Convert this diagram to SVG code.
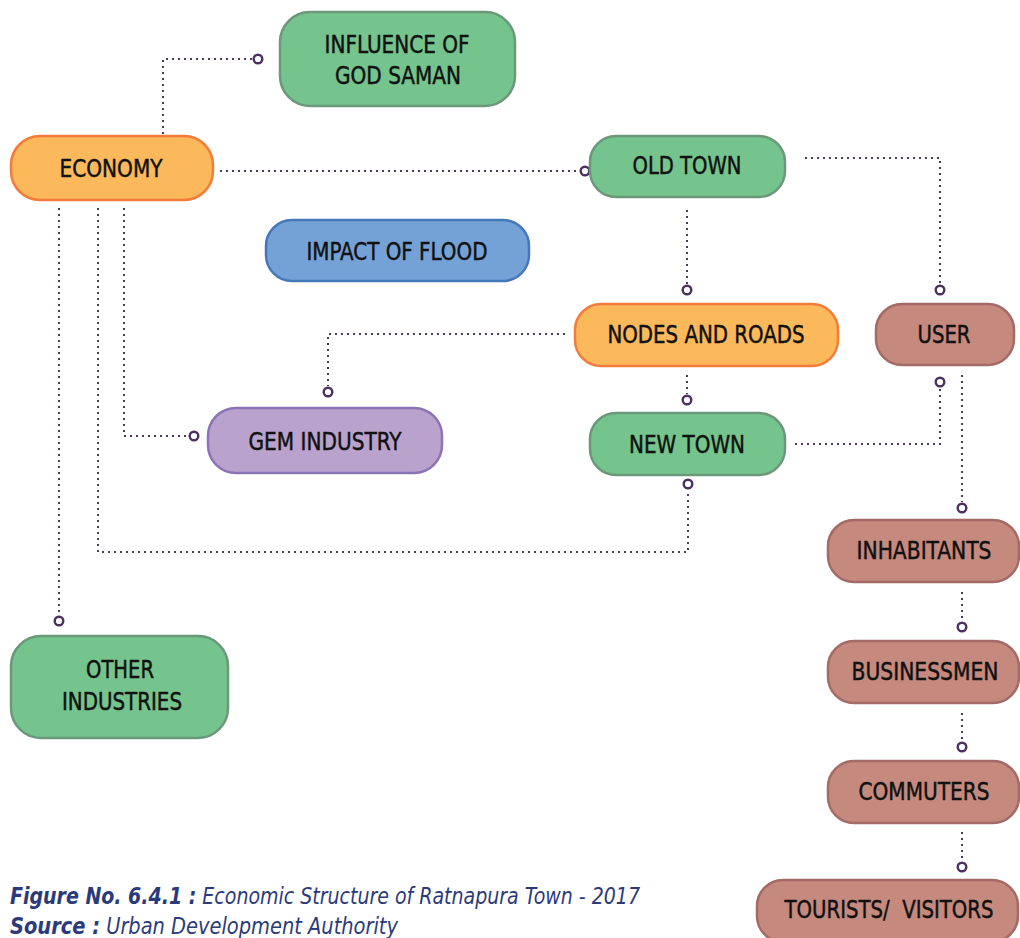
<svg xmlns="http://www.w3.org/2000/svg" width="1020" height="938" viewBox="0 0 1020 938">
<style>
.n{stroke-width:2.5}
.g{fill:#75c48d;stroke:#6b977b}
.o{fill:#fbb95b;stroke:#f47b3b}
.b{fill:#74a2d6;stroke:#4677b9}
.p{fill:#b9a2cc;stroke:#8a74b6}
.r{fill:#c5897e;stroke:#a36a66}
.t{font-family:"DejaVu Sans Condensed","Liberation Sans",sans-serif;font-size:25px;fill:#111;stroke:#111;stroke-width:0.45;text-anchor:middle}
.c{fill:none;stroke:#4b3a5e;stroke-width:2;stroke-dasharray:2 4}
.e{fill:#fff;stroke:#4b3060;stroke-width:2.4}
.cap{font-family:"DejaVu Sans Condensed","Liberation Sans",sans-serif;font-size:23px;font-style:italic;fill:#2b3a7a}
</style>
<g id="connectors">
<path class="c" d="M163,134 V59 H252"/><circle class="e" cx="258" cy="59" r="4.3"/>
<path class="c" d="M220,171 H579"/><circle class="e" cx="585" cy="171" r="4.3"/>
<path class="c" d="M805,158 H940 V284"/><circle class="e" cx="940" cy="290" r="4.3"/>
<path class="c" d="M687,210 V284"/><circle class="e" cx="687" cy="290" r="4.3"/>
<path class="c" d="M565,334 H328 V386"/><circle class="e" cx="328" cy="392" r="4.3"/>
<path class="c" d="M687,375 V394"/><circle class="e" cx="687" cy="400" r="4.3"/>
<path class="c" d="M124,208 V436 H188"/><circle class="e" cx="194" cy="436" r="4.3"/>
<path class="c" d="M98,208 V552 H688 V490"/><circle class="e" cx="688" cy="484" r="4.3"/>
<path class="c" d="M59,208 V615"/><circle class="e" cx="59" cy="621" r="4.3"/>
<path class="c" d="M795,444 H940 V388"/><circle class="e" cx="940" cy="382" r="4.3"/>
<path class="c" d="M962,375 V502"/><circle class="e" cx="962" cy="508" r="4.3"/>
<path class="c" d="M962,592 V621"/><circle class="e" cx="962" cy="627" r="4.3"/>
<path class="c" d="M962,713 V741"/><circle class="e" cx="962" cy="747" r="4.3"/>
<path class="c" d="M962,832 V861"/><circle class="e" cx="962" cy="867" r="4.3"/>
</g>
<g id="influence"><rect class="n g" x="280" y="12" width="235" height="94" rx="30"/><text class="t" x="397" y="53" textLength="145" lengthAdjust="spacingAndGlyphs">INFLUENCE OF</text><text class="t" x="398" y="84" textLength="126" lengthAdjust="spacingAndGlyphs">GOD SAMAN</text></g>
<g id="economy"><rect class="n o" x="11" y="136" width="202" height="64" rx="29"/><text class="t" x="111" y="177" textLength="103" lengthAdjust="spacingAndGlyphs">ECONOMY</text></g>
<g id="oldtown"><rect class="n g" x="590" y="136" width="195" height="61" rx="26"/><text class="t" x="687" y="174" textLength="109" lengthAdjust="spacingAndGlyphs">OLD TOWN</text></g>
<g id="flood"><rect class="n b" x="266" y="220" width="263" height="61" rx="26"/><text class="t" x="397" y="260" textLength="181" lengthAdjust="spacingAndGlyphs">IMPACT OF FLOOD</text></g>
<g id="nodesroads"><rect class="n o" x="575" y="304" width="263" height="62" rx="26"/><text class="t" x="706" y="343" textLength="197" lengthAdjust="spacingAndGlyphs">NODES AND ROADS</text></g>
<g id="user"><rect class="n r" x="876" y="304" width="138" height="61" rx="26"/><text class="t" x="944" y="343" textLength="53" lengthAdjust="spacingAndGlyphs">USER</text></g>
<g id="gem"><rect class="n p" x="208" y="408" width="234" height="65" rx="28"/><text class="t" x="325" y="450" textLength="153" lengthAdjust="spacingAndGlyphs">GEM INDUSTRY</text></g>
<g id="newtown"><rect class="n g" x="590" y="413" width="195" height="62" rx="26"/><text class="t" x="687" y="453" textLength="116" lengthAdjust="spacingAndGlyphs">NEW TOWN</text></g>
<g id="inhabitants"><rect class="n r" x="828" y="520" width="191" height="62" rx="26"/><text class="t" x="924" y="559" textLength="135" lengthAdjust="spacingAndGlyphs">INHABITANTS</text></g>
<g id="other"><rect class="n g" x="11" y="636" width="217" height="102" rx="30"/><text class="t" x="120" y="678" textLength="68" lengthAdjust="spacingAndGlyphs">OTHER</text><text class="t" x="122" y="710" textLength="120" lengthAdjust="spacingAndGlyphs">INDUSTRIES</text></g>
<g id="businessmen"><rect class="n r" x="828" y="641" width="191" height="62" rx="26"/><text class="t" x="925" y="680" textLength="147" lengthAdjust="spacingAndGlyphs">BUSINESSMEN</text></g>
<g id="commuters"><rect class="n r" x="828" y="761" width="191" height="62" rx="26"/><text class="t" x="924" y="800" textLength="131" lengthAdjust="spacingAndGlyphs">COMMUTERS</text></g>
<g id="tourists"><rect class="n r" x="757" y="880" width="261" height="62" rx="26"/><text class="t" x="889" y="918" textLength="209" lengthAdjust="spacingAndGlyphs" xml:space="preserve">TOURISTS/  VISITORS</text></g>
<g id="caption">
<text class="cap" x="10" y="904" textLength="630" lengthAdjust="spacingAndGlyphs"><tspan font-weight="bold">Figure No. 6.4.1 :</tspan> Economic Structure of Ratnapura Town - 2017</text>
<text class="cap" x="10" y="934" textLength="388" lengthAdjust="spacingAndGlyphs"><tspan font-weight="bold">Source :</tspan> Urban Development Authority</text>
</g>
</svg>
